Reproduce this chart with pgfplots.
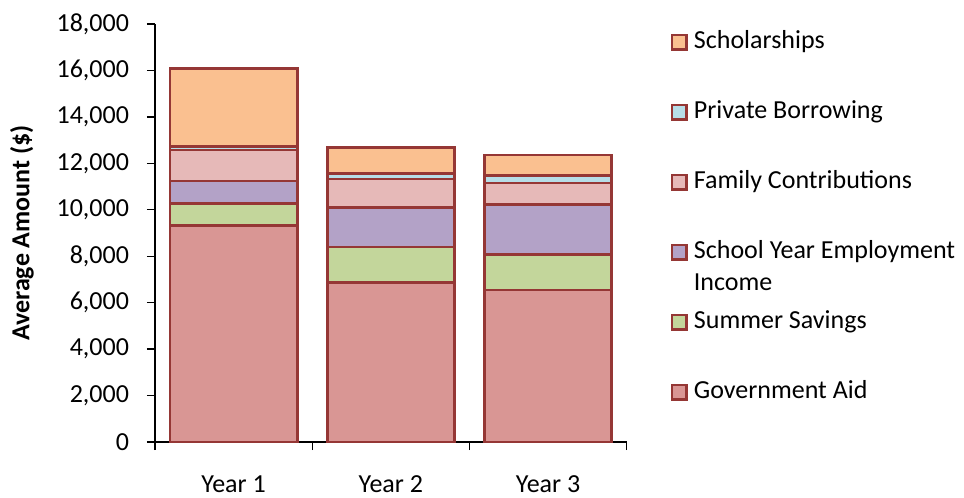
\documentclass[border=0pt]{standalone}
\usepackage{pgfplots}
\pgfplotsset{compat=1.18}
\usepackage{fontspec}
\setmainfont{Carlito}
\definecolor{gov}{HTML}{D99694}
\definecolor{summer}{HTML}{C3D69B}
\definecolor{emp}{HTML}{B3A2C7}
\definecolor{fam}{HTML}{E6B9B8}
\definecolor{priv}{HTML}{B7DEE8}
\definecolor{schol}{HTML}{FAC090}
\definecolor{edge}{HTML}{953735}
\begin{document}
\begin{tikzpicture}[font=\fontsize{19.5}{23}\selectfont]
\begin{axis}[
  name=ax,
  scale only axis,
  width=353.8pt, height=313.5pt,
  ybar stacked,
  bar width=0.81,
  xmin=-0.5, xmax=2.5,
  ymin=0, ymax=18000,
  axis lines*=left,
  axis line style={line width=1pt, -},
  xtick={0,1,2},
  xticklabels={Year 1,Year 2,Year 3},
  major x tick style={draw=none},
  minor xtick={-0.5,0.5,1.5,2.5},
  minor x tick style={line width=1pt, black},
  minor tick length=6pt,
  ytick={0,2000,...,18000},
  scaled y ticks=false,
  yticklabel={\pgfmathprintnumber[1000 sep={,}, fixed]{\tick}},
  y tick style={line width=1pt, black},
  major tick length=6pt,
  tick align=outside,
  tick pos=left,
  yticklabel style={font=\fontsize{19.5}{23}\selectfont, xshift=-10pt, /pgf/number format/assume math mode=true},
  xticklabel style={font=\fontsize{19.5}{23}\selectfont, yshift=-16pt},
  ylabel={\textbf{Average Amount (\$)}},
  every axis y label/.style={at={(axis description cs:-0.282,0.5)}, rotate=90, anchor=center},
  reverse legend,
  legend cell align=left,
  legend style={draw=none, fill=none, inner sep=0pt, outer sep=0pt,
    at={(axis description cs:1.093,0.985)}, anchor=north west,
    row sep=34.5pt, column sep=4.5pt,
    nodes={inner sep=0pt, text height=14pt, text depth=4pt, font=\fontsize{19.5}{23}\selectfont}},
  legend image code/.code={\draw[#1, line width=2pt] (0pt,-5.5pt) rectangle (11pt,5.5pt);},
  every axis plot/.append style={draw=edge, line width=2pt},
]
\addplot[fill=gov] coordinates {(0,9320) (1,6860) (2,6550)};
\addlegendentry{Government Aid}
\addplot[fill=summer] coordinates {(0,940) (1,1540) (2,1520)};
\addlegendentry{Summer Savings}
\addplot[fill=emp] coordinates {(0,980) (1,1710) (2,2150)};
\addlegendentry{\begin{tabular}[t]{@{}l@{}}School Year Employment\\[1pt]Income\end{tabular}}
\addplot[fill=fam] coordinates {(0,1340) (1,1220) (2,940)};
\addlegendentry{Family Contributions}
\addplot[fill=priv] coordinates {(0,140) (1,230) (2,330)};
\addlegendentry{Private Borrowing}
\addplot[fill=schol] coordinates {(0,3370) (1,1130) (2,870)};
\addlegendentry{Scholarships}
\end{axis}
\path (ax.south west) ++(-116.25pt,-37.5pt) rectangle ++(723pt,369pt);
\end{tikzpicture}
\end{document}
